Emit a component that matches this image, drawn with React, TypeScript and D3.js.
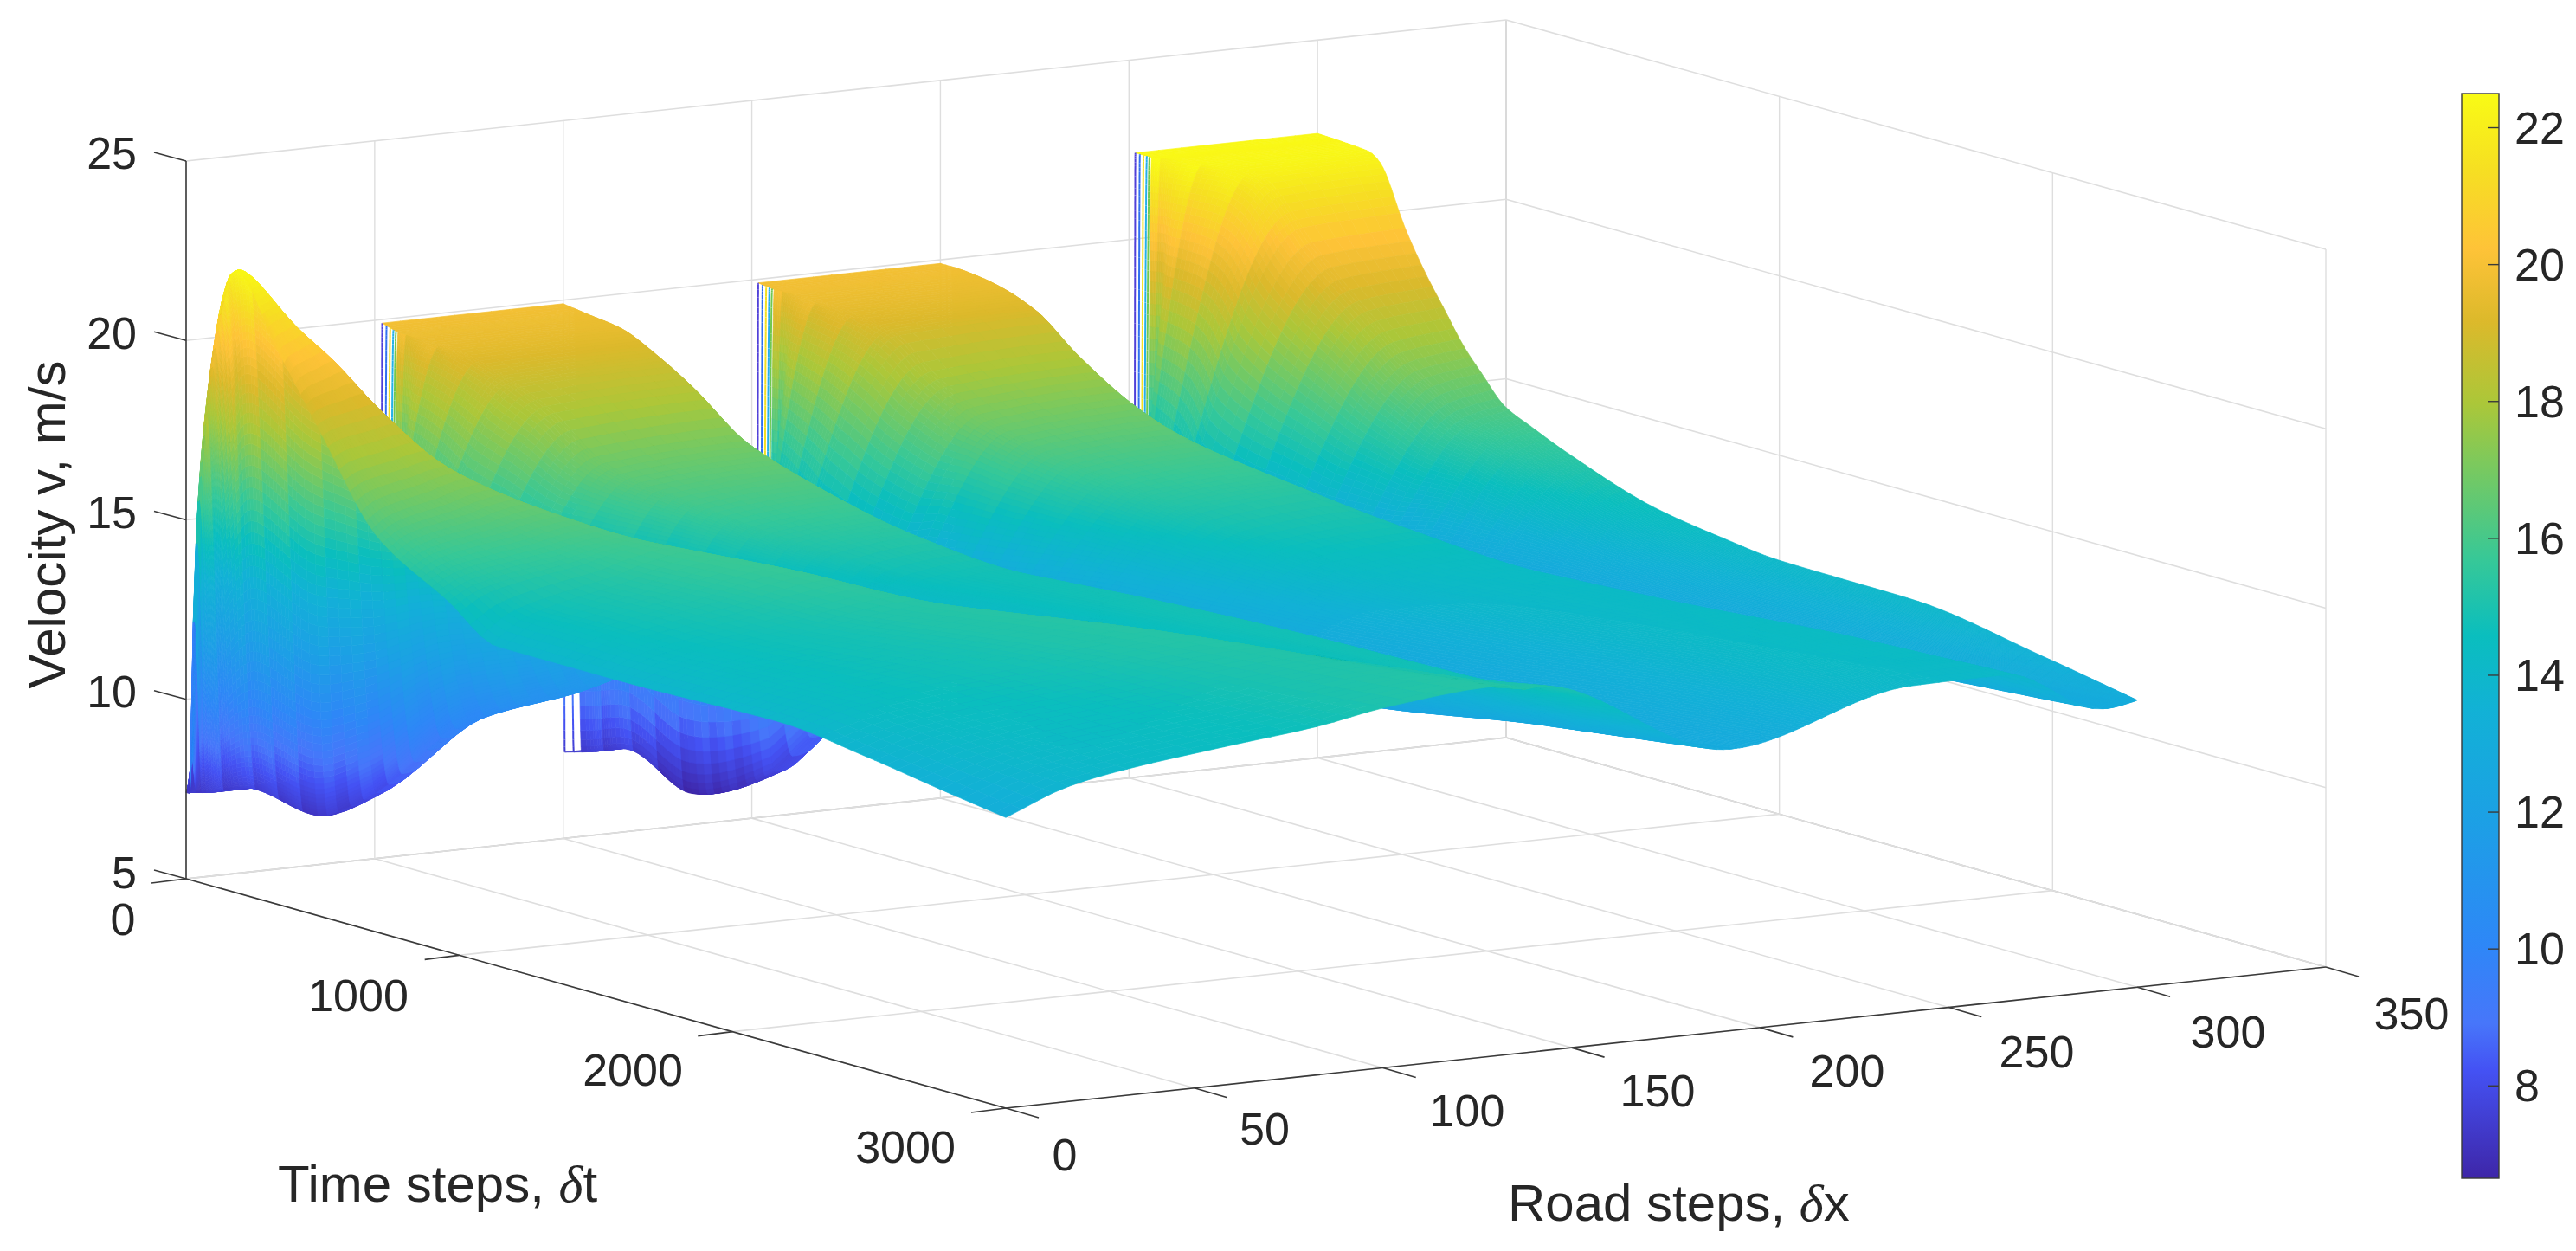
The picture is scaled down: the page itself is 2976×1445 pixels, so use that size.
import React, { useEffect, useRef } from "react";
import * as d3 from "d3";

// ---------- axis ticks ----------
const roadTicks = [0, 50, 100, 150, 200, 250, 300, 350];
const timeTicks = [0, 1000, 2000, 3000];
const speedTicks = [5, 10, 15, 20, 25];
const barTicks = [8, 10, 12, 14, 16, 18, 20, 22];
const barDomain = [6.65, 22.5];
const roadLabelPos = [[1230, 1334], [1461, 1304], [1695, 1283], [1915, 1260], [2134, 1237], [2353, 1215], [2574, 1192], [2786, 1171]];
const timeLabelPos = [[142, 1062], [414, 1150], [731, 1236], [1046, 1325]];
const speedLabelY = [1008, 799, 592, 385, 177];

// ---------- parula, sampled ----------
const parulaStops = ["#3e26a8", "#4452f4", "#4776fa", "#2e87f7", "#1ca0e5", "#12b1d6", "#0abebe", "#37c897", "#7dc95c", "#abc739", "#dcb92b", "#fec338", "#f6df22", "#f9fb15"];
const parulaAt = [0, 0.1, 0.143, 0.215, 0.33, 0.43, 0.5, 0.571, 0.66, 0.714, 0.79, 0.857, 0.93, 1];

// ---------- height field: edges, crests, valleys over time ----------
const edge0T = [0, 15, 21, 39, 57, 70, 96, 132, 165, 186, 339, 484, 703, 956, 1139, 1593, 2170, 2496, 2763, 3000];
const edge0Z = [7.4, 7.4, 10.7, 14.9, 17, 18.07, 19.75, 21.4, 22.2, 22.3, 20.4, 18.6, 16, 14.8, 13.9, 13.9, 14, 13.7, 13.37, 13.1];
const edge300T = [0, 186, 226, 323, 391, 463, 536, 600, 686, 780, 913, 1233, 1468, 1696, 2177, 2664, 3000];
const edge300Z = [22.4, 22.3, 22.1, 20.4, 19.4, 18.5, 17.6, 17.0, 16.25, 15.9, 15.45, 14.6, 14.3, 14.1, 14.05, 13.47, 13.0];

const crestAT = [0, 100, 186, 326, 397, 495, 625, 797, 980, 1287, 1674, 2058, 2562, 3000];
const crestAX = [0.5, 0.5, 1, 6, 10, 16, 24, 38, 51, 64, 80, 100, 120, 129];
const crestAZ = [7.4, 15, 22.35, 20.97, 20.2, 18.88, 17.5, 16.49, 15.9, 15.67, 15.27, 15.27, 15.16, 15.3];
const crestBT = [0, 58, 157, 256, 375, 500, 695, 977, 1292, 1792, 2286, 2682, 3000];
const crestBX = [100, 102, 104, 106, 108, 112, 115, 120, 128, 135, 140, 140.5, 141];
const crestBZ = [19.9, 19.72, 19.5, 18.97, 18.2, 17, 16.2, 15.35, 14.8, 14.84, 14.8, 14.8, 15.16];
const crestCT = [0, 58, 157, 290, 391, 548, 704, 904, 1232, 1609, 1993, 2495, 2892, 3000];
const crestCX = [200, 202, 203.5, 205, 208, 212, 216, 222, 230, 238, 245, 252, 260, 265];
const crestCZ = [19.9, 19.8, 19.6, 19.09, 18.1, 16.95, 16.2, 15.58, 14.85, 14.33, 14.27, 14.36, 14.24, 14.1];

const footT = [0, 39, 80, 120, 300];
const footAX = [51.7, 51, 49, 36, 13];
const footBX = [151.4, 151, 149, 136, 113.5];
const footCX = [251.4, 251, 249, 236, 213.5];

const valleyAT = [0, 39, 120, 320, 414, 560, 680, 789, 1300, 2000, 2500, 3000];
const valleyAX = [1, 3, 8, 12, 19.5, 35, 52, 60, 92, 115, 128, 133];
const valleyAZ = [7.4, 7.45, 7.7, 7.3, 8, 10.2, 11, 11.7, 13.3, 14.4, 14.9, 15.25];
const valleyBT = [0, 39, 120, 298, 500, 543, 1000, 1500, 2015, 2537, 3000];
const valleyBX = [100.4, 104, 108, 112.5, 120, 127, 150, 162, 172, 180, 192];
const valleyBZ = [7.4, 7.45, 7.66, 6.75, 7.7, 8.7, 11.3, 11.9, 12.13, 12.65, 12.85];
const valleyCT = [0, 39, 120, 300, 500, 800, 1232, 2000, 2500, 3000];
const valleyCX = [200.4, 204, 208, 212.5, 228, 255, 268, 278, 285, 291];
const valleyCZ = [7.4, 7.45, 7.66, 6.9, 8.5, 11.3, 12.2, 12.6, 12.75, 12.86];

const headT = [0, 50, 100, 250, 500, 800, 1300, 2000, 2500, 3000];
const headBX = [52, 52.6, 55, 65, 75, 90, 112, 128, 135, 138];
const headCX = [151.7, 152.3, 155, 165, 175, 190, 205, 225, 235, 240];
const headDX = [251.7, 252.4, 256, 271, 284, 292, 296, 298, 298.6, 299];
const headDrop = [0, 0, 0, 0.1, 0.2, 0.25, 0.2, 0.15, 0.1, 0.03];

const shoulderAtX = [0.13, 0.25, 0.45, 0.64, 0.78];
const shoulderAtZ = [0.31, 0.45, 0.6, 0.73, 0.88];

const strandColors = ["#5040d8", "#3070f0", "#f4e020", "#25b0e8", "#70c850"];

// ---------- render sampling of the field ----------
const rowTimes = [0, 14, 26, 36, 44, ...d3.range(50, 90, 4), ...d3.range(90, 300, 10), ...d3.range(300, 1000, 20), ...d3.range(1000, 3001, 40)];
const gapSamples = [4, 4, 4, 4, 4, 4, 70, 4, 56, 10, 30, 4, 56, 10, 10, 4, 64, 8];

function mono(xs: number[], ys: number[]) {
  const n = xs.length;
  const m: number[] = [];
  for (let i = 0; i < n - 1; i++) m.push((ys[i + 1] - ys[i]) / (xs[i + 1] - xs[i]));
  const c: number[] = [m[0]];
  for (let i = 1; i < n - 1; i++) c.push(m[i - 1] * m[i] <= 0 ? 0 : (2 * m[i - 1] * m[i]) / (m[i - 1] + m[i]));
  c.push(m[n - 2]);
  return (x: number) => {
    if (x <= xs[0]) return ys[0];
    if (x >= xs[n - 1]) return ys[n - 1];
    let lo = 0, hi = n - 1;
    while (hi - lo > 1) { const k = (lo + hi) >> 1; if (xs[k] <= x) lo = k; else hi = k; }
    const h = xs[lo + 1] - xs[lo], s = (x - xs[lo]) / h;
    const s2 = s * s, s3 = s2 * s;
    return (2 * s3 - 3 * s2 + 1) * ys[lo] + (s3 - 2 * s2 + s) * h * c[lo] + (-2 * s3 + 3 * s2) * ys[lo + 1] + (s3 - s2) * h * c[lo + 1];
  };
}

const z0 = mono(edge0T, edge0Z), z300 = mono(edge300T, edge300Z);
const caX = mono(crestAT, crestAX), caZ = mono(crestAT, crestAZ);
const cbX = mono(crestBT, crestBX), cbZ = mono(crestBT, crestBZ);
const ccX = mono(crestCT, crestCX), ccZ = mono(crestCT, crestCZ);
const vaX = mono(valleyAT, valleyAX), vaZ = mono(valleyAT, valleyAZ);
const vbX = mono(valleyBT, valleyBX), vbZ = mono(valleyBT, valleyBZ);
const vcX = mono(valleyCT, valleyCX), vcZ = mono(valleyCT, valleyCZ);
const faX = mono(footT, footAX), fbX = mono(footT, footBX), fcX = mono(footT, footCX);
const hbX = mono(headT, headBX), hcX = mono(headT, headCX), hdX = mono(headT, headDX), hDrop = mono(headT, headDrop);

function rowProfile(t: number) {
  const k: [number, number][] = [];
  const e0 = z0(t);
  const cx = caX(t), cz = Math.max(caZ(t), e0 + 0.05);
  k.push([0, e0]);
  shoulderAtX.forEach((f, i) => k.push([f * cx, e0 + shoulderAtZ[i] * (cz - e0)]));
  k.push([cx, cz]);
  const foot = (fx: (t: number) => number, vx: number) => (t < 300 ? Math.max(fx(t), vx + 0.3) : vx + 1);
  const a = vaX(t); k.push([a, vaZ(t)]); k.push([foot(faX, a), vaZ(t)]);
  k.push([hbX(t), cbZ(t) - hDrop(t)]); k.push([cbX(t), cbZ(t)]);
  const b = vbX(t); k.push([b, vbZ(t)]); k.push([foot(fbX, b), vbZ(t)]);
  k.push([hcX(t), ccZ(t) - hDrop(t)]); k.push([ccX(t), ccZ(t)]);
  const c = vcX(t); k.push([c, vcZ(t)]); k.push([foot(fcX, c), vcZ(t)]);
  k.push([hdX(t), z300(t) - hDrop(t)]); k.push([300, z300(t)]);
  for (let i = 1; i < k.length; i++) if (k[i][0] <= k[i - 1][0]) k[i][0] = k[i - 1][0] + 0.05;
  const f = mono(k.map((p) => p[0]), k.map((p) => p[1]));
  const xs: number[] = [], zs: number[] = [];
  for (let g = 0; g < k.length - 1; g++) {
    const n = gapSamples[g];
    for (let s = 0; s < n; s++) {
      const x = k[g][0] + ((k[g + 1][0] - k[g][0]) * s) / n;
      xs.push(x); zs.push(f(x));
    }
  }
  xs.push(k[k.length - 1][0]); zs.push(k[k.length - 1][1]);
  return { xs, zs };
}

// ---------- oblique projection ----------
const origin = [215, 1015];
const sx = { x: d3.scaleLinear().domain([0, 350]).range([0, 1525]), y: d3.scaleLinear().domain([0, 350]).range([0, -163]) };
const st = { x: d3.scaleLinear().domain([0, 3000]).range([0, 947]), y: d3.scaleLinear().domain([0, 3000]).range([0, 265]) };
const sz = d3.scaleLinear().domain([5, 25]).range([0, -829]);
const P = (x: number, t: number, z: number): [number, number] => [
  origin[0] + sx.x(x) + st.x(t),
  origin[1] + sx.y(x) + st.y(t) + sz(z),
];
const seg = (a: [number, number], b: [number, number]) => `M${a[0].toFixed(1)},${a[1].toFixed(1)}L${b[0].toFixed(1)},${b[1].toFixed(1)}`;

const colorScale = d3.scaleLinear<string>()
  .domain(parulaAt.map((f) => barDomain[0] + f * (barDomain[1] - barDomain[0])))
  .range(parulaStops).interpolate(d3.interpolateRgb).clamp(true);
const lut = d3.range(0, 1024).map((i) => d3.color(colorScale(barDomain[0] + (i / 1023) * (barDomain[1] - barDomain[0])))!.formatHex());
const col = (z: number) => lut[Math.max(0, Math.min(1023, Math.round(((z - barDomain[0]) / (barDomain[1] - barDomain[0])) * 1023)))];

type Item = { d: string; fill: string; stroke: string; w: number };

function buildSurface(): Item[] {
  const rows = rowTimes.map(rowProfile);
  const items: Item[] = [];
  const meshBand = 70; // the shingled look of the steep faces, one shingle per mesh band
  for (let j = 0; j < rowTimes.length - 1; j++) {
    const t0 = rowTimes[j], t1 = rowTimes[j + 1];
    const r0 = rows[j], r1 = rows[j + 1];
    const nc = r0.xs.length;
    const phase = (t0 % meshBand) / meshBand - 0.5;
    for (let i = nc - 2; i >= 0; i--) {
      const slope = (r0.zs[i + 1] - r0.zs[i]) / Math.max(1e-3, r0.xs[i + 1] - r0.xs[i]);
      const isStrand = r0.xs[i] > 2 && ((slope > 0.3 && t0 < 50) || (slope < -0.3 && t0 < 20));
      if (isStrand) {
        const a = P(r0.xs[i], t0, r0.zs[i]), b = P(r0.xs[i + 1], t0, r0.zs[i + 1]);
        const stroke = j < strandColors.length && slope > 0 ? strandColors[j] : col((r0.zs[i] + r0.zs[i + 1]) / 2);
        items.push({ d: seg(a, b), fill: "none", stroke, w: 2 });
        continue;
      }
      const A = P(r0.xs[i], t0, r0.zs[i]), B = P(r0.xs[i + 1], t0, r0.zs[i + 1]);
      const C = P(r1.xs[i + 1], t1, r1.zs[i + 1]), D = P(r1.xs[i], t1, r1.zs[i]);
      const mean = (r0.zs[i] + r0.zs[i + 1] + r1.zs[i] + r1.zs[i + 1]) / 4;
      const steep = t0 < 1500 ? Math.max(0, Math.min(1, (Math.abs(slope) - 0.08) / 0.1)) * (1 - t0 / 1500) : 0;
      const c = col(mean + phase * 0.6 * steep);
      items.push({
        d: `M${A[0].toFixed(1)},${A[1].toFixed(1)}L${B[0].toFixed(1)},${B[1].toFixed(1)}L${C[0].toFixed(1)},${C[1].toFixed(1)}L${D[0].toFixed(1)},${D[1].toFixed(1)}Z`,
        fill: c, stroke: c, w: 0.7,
      });
    }
  }
  return items;
}

const GRID = "#dedede";
const EDGE = "#bdbdbd";
const INK = "#262626";

export default function App() {
  const ref = useRef<SVGGElement>(null);
  useEffect(() => {
    const items = buildSurface();
    d3.select(ref.current).selectAll("path").data(items).join("path")
      .attr("d", (d) => d.d).attr("fill", (d) => d.fill).attr("stroke", (d) => d.stroke).attr("stroke-width", (d) => d.w);
  }, []);

  const L = (k: string, a: [number, number], b: [number, number], stroke: string, w: number) => (
    <line key={k} x1={a[0]} y1={a[1]} x2={b[0]} y2={b[1]} stroke={stroke} strokeWidth={w} />
  );
  const bar = d3.scaleLinear().domain([22.5, barDomain[0]]).range([108, 1361]);
  const barId = "parulaBar";

  return (
    <svg width={2976} height={1445} style={{ position: "absolute", left: 0, top: 0, display: "block", background: "#fff" }} fontFamily="'Liberation Sans', Arial, sans-serif">
      <defs>
        <linearGradient id={barId} x1="0" y1="1" x2="0" y2="0">
          {parulaStops.map((c, i) => <stop key={i} offset={parulaAt[i]} stopColor={c} />)}
        </linearGradient>
      </defs>
      {roadTicks.map((x) => L("fx" + x, P(x, 0, 5), P(x, 3000, 5), x === 350 ? EDGE : GRID, 1.6))}
      {timeTicks.map((t) => L("ft" + t, P(0, t, 5), P(350, t, 5), t === 0 ? EDGE : GRID, 1.6))}
      {roadTicks.map((x) => L("wx" + x, P(x, 0, 5), P(x, 0, 25), x === 350 ? EDGE : GRID, 1.4))}
      {speedTicks.map((z) => L("wz" + z, P(0, 0, z), P(350, 0, z), GRID, 1.6))}
      {timeTicks.map((t) => L("vt" + t, P(350, t, 5), P(350, t, 25), GRID, 1.4))}
      {speedTicks.map((z) => L("hz" + z, P(350, 0, z), P(350, 3000, z), GRID, 1.6))}

      <g ref={ref} strokeLinejoin="round" />

      {L("axZ", P(0, 0, 5), P(0, 0, 25), "#3a3a3a", 1.6)}
      {L("axT", P(0, 0, 5), P(0, 3000, 5), "#3a3a3a", 1.6)}
      {L("axX", P(0, 3000, 5), P(350, 3000, 5), "#3a3a3a", 1.6)}
      {speedTicks.map((z) => { const p = P(0, 0, z); return L("tz" + z, p, [p[0] - 37, p[1] - 10], "#3a3a3a", 1.6); })}
      {timeTicks.map((t) => { const p = P(0, t, 5); return L("tt" + t, p, [p[0] - 40, p[1] + 5], "#3a3a3a", 1.6); })}
      {roadTicks.map((x) => { const p = P(x, 3000, 5); return L("tx" + x, p, [p[0] + 38, p[1] + 11], "#3a3a3a", 1.6); })}

      <g fontSize={52} fill={INK}>
        {speedTicks.map((z, i) => <text key={z} x={158} y={speedLabelY[i]} textAnchor="end" dominantBaseline="central">{z}</text>)}
        {timeTicks.map((t, i) => <text key={t} x={timeLabelPos[i][0]} y={timeLabelPos[i][1]} textAnchor="middle" dominantBaseline="central">{t}</text>)}
        {roadTicks.map((x, i) => <text key={x} x={roadLabelPos[i][0]} y={roadLabelPos[i][1]} textAnchor="middle" dominantBaseline="central">{x}</text>)}
      </g>

      <g fontSize={60} fill={INK}>
        <text transform="translate(75,606) rotate(-90)" textAnchor="middle">Velocity v, m/s</text>
        <text x={321} y={1388}>Time steps, <tspan fontFamily="'Liberation Serif', serif" fontStyle="italic">δ</tspan>t</text>
        <text x={1742} y={1410}>Road steps, <tspan fontFamily="'Liberation Serif', serif" fontStyle="italic">δ</tspan>x</text>
      </g>

      <rect x={2844} y={108} width={43} height={1253} fill={`url(#${barId})`} stroke="#3a3a3a" strokeWidth={1.4} />
      {barTicks.map((v) => (
        <g key={v}>
          <line x1={2874} x2={2887} y1={bar(v)} y2={bar(v)} stroke="#3a3a3a" strokeWidth={1.4} />
          <text x={2905} y={bar(v)} fontSize={52} fill={INK} dominantBaseline="central">{v}</text>
        </g>
      ))}
    </svg>
  );
}
